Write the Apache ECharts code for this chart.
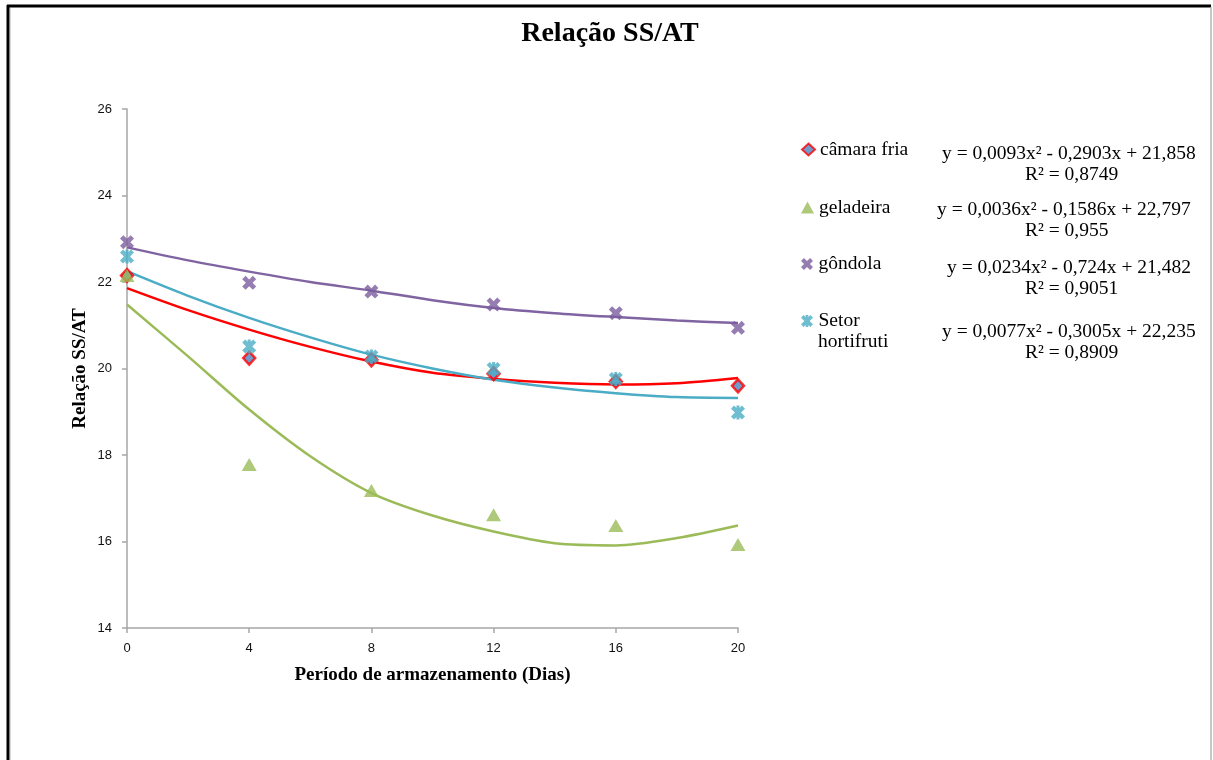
<!DOCTYPE html>
<html>
<head>
    <meta charset="utf-8">
    <title>Relação SS/AT</title>
    <script src="https://cdn.jsdelivr.net/npm/echarts@6.0.0/dist/echarts.min.js"></script>
    <style>
        html, body { margin: 0; padding: 0; background: #fff; }
        #chart { width: 1213px; height: 760px; }
    </style>
</head>
<body>
    <div id="chart"></div>

    <script>
        // dias de armazenamento (pontos medidos)
        var days = [0, 4, 8, 12, 16, 20];
        var camaraFria = [22.15, 20.24, 20.20, 19.88, 19.70, 19.60];
        var geladeira = [22.15, 17.78, 17.18, 16.62, 16.37, 15.93];
        var gondola = [22.92, 21.98, 21.78, 21.48, 21.28, 20.94];
        var setorHortifruti = [22.59, 20.51, 20.28, 19.99, 19.76, 18.98];

        // linhas de tendência
        var trendDays = [0, 2, 4, 6, 8, 10, 12, 14, 16, 18, 20];
        var camaraTrend = [21.86, 21.35, 20.90, 20.50, 20.16, 19.90, 19.76, 19.67, 19.63, 19.66, 19.78];
        var geladeiraTrend = [21.48, 20.28, 19.05, 17.97, 17.12, 16.60, 16.23, 15.96, 15.91, 16.08, 16.37];
        var gondolaTrend = [22.80, 22.50, 22.24, 22.00, 21.80, 21.58, 21.40, 21.28, 21.19, 21.11, 21.05];
        var setorTrend = [22.25, 21.68, 21.17, 20.72, 20.32, 20.00, 19.74, 19.56, 19.43, 19.34, 19.32];

        var seriesNames = ['câmara fria', 'geladeira', 'gôndola', 'Setor hortifruti'];
        var equations = [
            'y = 0,0093x² - 0,2903x + 21,858',
            'y = 0,0036x² - 0,1586x + 22,797',
            'y = 0,0234x² - 0,724x + 21,482',
            'y = 0,0077x² - 0,3005x + 22,235'
        ];
        var r2Labels = ['R² = 0,8749', 'R² = 0,955', 'R² = 0,9051', 'R² = 0,8909'];

        var xTicks = [0, 4, 8, 12, 16, 20];
        var yTicks = [14, 16, 18, 20, 22, 24, 26];

        var SERIF = '"Liberation Serif", "Times New Roman", serif';
        var SANS = '"Liberation Sans", Arial, sans-serif';

        var xMark = 'path://M0,2.4 L2.4,0 L5,2.6 L7.6,0 L10,2.4 L7.4,5 L10,7.6 L7.6,10 L5,7.4 L2.4,10 L0,7.6 L2.6,5 Z';
        var starMark = 'path://M0,2.2 L2.2,0 L5,2.8 L7.8,0 L10,2.2 L7.2,5 L10,7.8 L7.8,10 L5,7.2 L2.2,10 L0,7.8 L2.8,5 Z M3.9,0 L6.1,0 L6.1,10 L3.9,10 Z';

        function pairs(xs, ys) {
            return xs.map(function (x, i) { return [x, ys[i]]; });
        }

        var chart = echarts.init(document.getElementById('chart'));

        var legendTops = [139, 197, 253.5, 310.5];
        var legends = seriesNames.map(function (name, i) {
            return {
                data: [name],
                left: 801,
                top: legendTops[i],
                padding: 0,
                itemWidth: 13,
                itemHeight: 12,
                itemGap: 4,
                formatter: function (n) {
                    return n === 'Setor hortifruti' ? 'Setor' : n;
                },
                textStyle: {
                    fontFamily: SERIF,
                    fontSize: 19.5,
                    color: '#000',
                    lineHeight: 21
                },
                selectedMode: false
            };
        });

        var eqLeft = [942, 937, 947, 942];
        var eqTop = [144, 200, 258, 322];
        var graphics = [];
        equations.forEach(function (eq, i) {
            graphics.push({
                type: 'text', left: eqLeft[i], top: eqTop[i],
                style: { text: eq, font: '19.5px ' + SERIF, fill: '#000' }
            });
            graphics.push({
                type: 'text', left: 1025, top: eqTop[i] + 20.5,
                style: { text: r2Labels[i], font: '19.5px ' + SERIF, fill: '#000' }
            });
        });
        // segunda linha da legenda "Setor hortifruti"
        graphics.push({
            type: 'text', left: 818, top: 332,
            style: { text: 'hortifruti', font: '19.5px ' + SERIF, fill: '#000' }
        });
        // moldura
        graphics.push({ type: 'line', shape: { x1: 8, y1: 5, x2: 8, y2: 760 }, style: { stroke: '#000', lineWidth: 3 } });
        graphics.push({ type: 'line', shape: { x1: 7, y1: 6, x2: 1211, y2: 6 }, style: { stroke: '#000', lineWidth: 3 } });
        graphics.push({ type: 'line', shape: { x1: 10.5, y1: 8, x2: 10.5, y2: 760 }, style: { stroke: '#d8d8d8', lineWidth: 1 } });
        graphics.push({ type: 'line', shape: { x1: 1211, y1: 7, x2: 1211, y2: 760 }, style: { stroke: '#b4b4b4', lineWidth: 1.5 } });

        var option = {
            backgroundColor: '#fff',
            animation: false,
            title: {
                text: 'Relação SS/AT',
                left: 605,
                textAlign: 'center',
                top: 15,
                textStyle: { fontFamily: SERIF, fontWeight: 'bold', fontSize: 28, color: '#000' }
            },
            legend: legends,
            graphic: graphics,
            grid: { left: 127, top: 109, width: 611, height: 519, containLabel: false },
            xAxis: {
                type: 'value',
                min: 0,
                max: 20,
                interval: 4,
                name: 'Período de armazenamento (Dias)',
                nameLocation: 'middle',
                nameGap: 38,
                nameMoveOverlap: false,
                nameTextStyle: { fontFamily: SERIF, fontWeight: 'bold', fontSize: 19, color: '#000' },
                axisLine: { lineStyle: { color: '#a6a6a6', width: 1.5 } },
                axisTick: { show: true, length: 5, lineStyle: { color: '#a6a6a6', width: 1.5 } },
                axisLabel: {
                    margin: 14,
                    fontFamily: SANS, fontSize: 13, color: '#111',
                    formatter: function (v) { return xTicks.indexOf(v) >= 0 ? String(v) : ''; }
                },
                splitLine: { show: false }
            },
            yAxis: {
                type: 'value',
                min: 14,
                max: 26,
                interval: 2,
                name: 'Relação SS/AT',
                nameLocation: 'middle',
                nameGap: 37,
                nameMoveOverlap: false,
                nameTextStyle: { fontFamily: SERIF, fontWeight: 'bold', fontSize: 19, color: '#000' },
                axisLine: { show: true, lineStyle: { color: '#a6a6a6', width: 1.5 } },
                axisTick: { show: true, length: 5, lineStyle: { color: '#a6a6a6', width: 1.5 } },
                axisLabel: {
                    margin: 15,
                    fontFamily: SANS, fontSize: 13, color: '#111',
                    formatter: function (v) { return yTicks.indexOf(v) >= 0 ? String(v) : ''; }
                },
                splitLine: { show: false }
            },
            series: [
                {
                    name: 'trend câmara fria', type: 'line', data: pairs(trendDays, camaraTrend),
                    smooth: 0.3, showSymbol: false, lineStyle: { color: '#ff0000', width: 2.5 }, z: 2
                },
                {
                    name: 'trend geladeira', type: 'line', data: pairs(trendDays, geladeiraTrend),
                    smooth: 0.3, showSymbol: false, lineStyle: { color: '#9bbb59', width: 2.5 }, z: 2
                },
                {
                    name: 'trend gôndola', type: 'line', data: pairs(trendDays, gondolaTrend),
                    smooth: 0.3, showSymbol: false, lineStyle: { color: '#8064a2', width: 2.5 }, z: 2
                },
                {
                    name: 'trend setor', type: 'line', data: pairs(trendDays, setorTrend),
                    smooth: 0.3, showSymbol: false, lineStyle: { color: '#4bacc6', width: 2.5 }, z: 2
                },
                {
                    name: 'câmara fria', type: 'scatter', data: pairs(days, camaraFria),
                    symbol: 'diamond', symbolSize: [12, 13],
                    itemStyle: { color: '#4f81bd', borderColor: '#ff0000', borderWidth: 2.5 }, z: 3
                },
                {
                    name: 'geladeira', type: 'scatter', data: pairs(days, geladeira),
                    symbol: 'triangle', symbolSize: [15, 13],
                    itemStyle: { color: '#9bbb59' }, z: 4
                },
                {
                    name: 'gôndola', type: 'scatter', data: pairs(days, gondola),
                    symbol: xMark, symbolSize: 14,
                    itemStyle: { color: '#7a5c9e' }, z: 4
                },
                {
                    name: 'Setor hortifruti', type: 'scatter', data: pairs(days, setorHortifruti),
                    symbol: starMark, symbolSize: 14,
                    itemStyle: { color: '#4bacc6' }, z: 4
                }
            ]
        };
        chart.setOption(option);
    </script>
</body>
</html>
